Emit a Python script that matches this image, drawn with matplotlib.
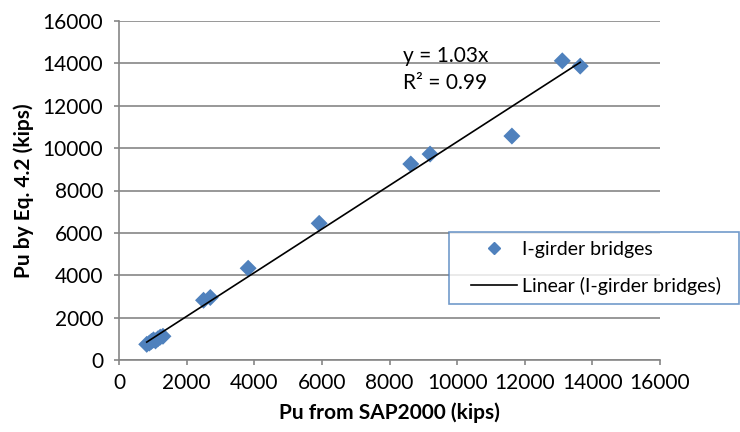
import numpy as np
import matplotlib
matplotlib.use("Agg")
import matplotlib.pyplot as plt
from matplotlib.lines import Line2D
from matplotlib.legend_handler import HandlerLine2D

plt.rcParams['font.family'] = ['Lato', 'DejaVu Sans']

# Pu values (kips): SAP2000 results vs. Eq. 4.2
pu_sap = [820, 900, 960, 1020, 1080, 1150, 1220, 1300,
          2500, 2700, 3820, 5920, 8630, 9200, 11620, 13110, 13640]
pu_eq = [740, 800, 880, 950, 900, 1000, 1080, 1120,
         2820, 2950, 4330, 6450, 9250, 9720, 10570, 14120, 13870]
slope = 1.03
r2 = 0.99

blue = '#4F81BD'
grey = '#868686'

fig = plt.figure(figsize=(7.4, 4.32), dpi=100)
ax = fig.add_axes([119/740, 1 - 360/432, (660 - 119)/740, (360 - 21)/432])

ax.scatter(pu_sap, pu_eq, marker='D', s=75, color=blue, edgecolors='none',
           zorder=3, label='I-girder bridges')

# linear trendline through the origin
xl = np.array([min(pu_sap), max(pu_sap)])
ax.plot(xl, slope * xl, color='black', lw=1.2, zorder=4,
        label='Linear (I-girder bridges)')

ax.set_xlim(0, 16000)
ax.set_ylim(0, 16000)
ax.set_xticks(range(0, 16001, 2000))
ax.set_yticks(range(0, 16001, 2000))
ax.tick_params(labelsize=15, colors=grey, labelcolor='black', length=3.5, width=1.2)
ax.tick_params(axis='y', pad=8)
ax.tick_params(axis='x', pad=6)
ax.grid(axis='y', color=grey, lw=1.2)
ax.set_axisbelow(True)
for side in ['top', 'right']:
    ax.spines[side].set_visible(False)
for side in ['left', 'bottom']:
    ax.spines[side].set_color(grey)
    ax.spines[side].set_linewidth(1.2)

ax.set_xlabel('Pu from SAP2000 (kips)', fontsize=15, fontweight='bold', labelpad=7)
ax.set_ylabel('Pu by Eq. 4.2 (kips)', fontsize=15, fontweight='bold', labelpad=6)

ax.text(403/740, 1 - 56/432, f'y = {slope:.2f}x', transform=fig.transFigure,
        fontsize=15, va='center', ha='left')
ax.text(403/740, 1 - 83/432, f'R² = {r2:.2f}', transform=fig.transFigure,
        fontsize=15, va='center', ha='left')

handles = [Line2D([], [], marker='D', ls='none', color=blue, markersize=6.6),
           Line2D([], [], color='black', lw=1.2)]
leg = fig.legend(handles, ['I-girder bridges', 'Linear (I-girder bridges)'],
                 loc='upper left',
                 bbox_to_anchor=(449/740, 1 - 232/432, 290/740, 0),
                 mode='expand', fontsize=14, frameon=True, fancybox=False,
                 handlelength=3.03, handletextpad=0.26, borderpad=0.45,
                 labelspacing=1.0, borderaxespad=0,
                 handler_map={Line2D: HandlerLine2D(xpad=0.67)})
leg.get_frame().set_edgecolor(blue)
leg.get_frame().set_linewidth(1.2)

fig.savefig('out.png', dpi=100)
